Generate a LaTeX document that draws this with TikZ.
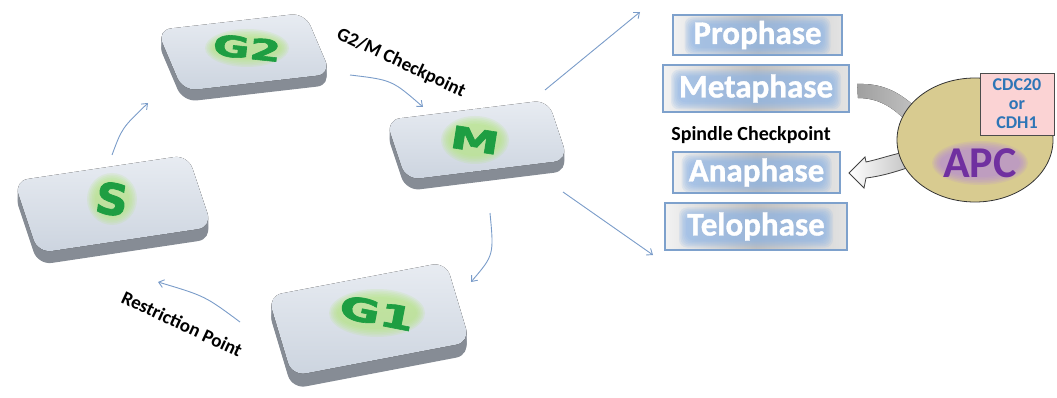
\documentclass[tikz,border=0pt]{standalone}
\usepackage{fontspec}
\setmainfont{Carlito}
\newfontfamily\keyfont[BoldFeatures={FakeBold=2}]{DejaVu Sans}
\newfontfamily\phasefont[BoldFeatures={FakeBold=1}]{Carlito}
\usetikzlibrary{arrows.meta,calc,shapes.geometric}
\definecolor{arrowblue}{HTML}{7A9CC9}
\definecolor{slabtop}{HTML}{E8ECF2}
\definecolor{slabbot}{HTML}{CCD4DF}
\definecolor{slabsidec}{HTML}{B2B7BF}
\definecolor{slabdark}{HTML}{868C95}
\definecolor{keygreen}{HTML}{1E9E42}
\definecolor{glowgreen}{HTML}{B4E67E}
\definecolor{phaseborder}{HTML}{7EA1CC}
\definecolor{phaseglow}{HTML}{8AB3E6}
\definecolor{apcfill}{HTML}{D8CB90}
\definecolor{apcpurple}{HTML}{7030A0}
\definecolor{apcglow}{HTML}{B58AD8}
\definecolor{pinkbox}{HTML}{FBD3D4}
\definecolor{cdcblue}{HTML}{2E75B6}
\tikzset{
  slabface/.style={top color=slabtop, bottom color=slabbot},
  cyc/.style={draw=arrowblue, line width=0.9pt, -{Straight Barb[length=5pt,width=8pt]}},
  lbl/.style={font=\fontsize{19}{21}\selectfont\bfseries, text=black, inner sep=0pt},
  keylbl/.style={font=\keyfont\bfseries\fontsize{28}{30}\selectfont, text=keygreen, inner sep=0pt, transform shape},
  phasebox/.style={draw=phaseborder, line width=1.6pt, left color=gray!10, right color=gray!22, middle color=gray!50, inner sep=0pt},
  phasetext/.style={font=\phasefont\bfseries\fontsize{33}{36}\selectfont, text=white, inner sep=0pt},
}
\newcommand\slab[5]{%
  \foreach \s in {1,...,#5}{%
    \pgfmathtruncatemacro\pct{100*\s/#5}%
    \fill[fill=slabdark!\pct!slabsidec, rounded corners=14pt, shift={(0,\s)}] #1 -- #2 -- #3 -- #4 -- cycle;}
  \fill[slabface, rounded corners=14pt] #1 -- #2 -- #3 -- #4 -- cycle;}
\newcommand\softglow[4]{\foreach \k in {0,...,5}{\fill[#4,opacity=0.17] #1 ellipse [x radius={#2+\k*1.6}, y radius={#3+\k*1.6}];}}
\newcommand\softbox[4]{\foreach \k in {0,...,5}{\fill[#4,opacity=0.17,rounded corners=8pt] ($#1+(-#2-\k*1.4,-#3-\k*1.4)$) rectangle ($#1+(#2+\k*1.4,#3+\k*1.4)$);}}
\begin{document}
\begin{tikzpicture}[x=1pt,y=-1pt]
\useasboundingbox (0,0) rectangle (1057,398);
% slabs
\slab{(157,30)}{(305,13)}{(331,74)}{(183,91)}{11}
\slab{(386,120)}{(548,100)}{(568,160)}{(406,180)}{11}
\slab{(14,181)}{(188,155)}{(212,227)}{(38,253)}{12}
\slab{(268,296)}{(446,262)}{(470,342)}{(292,376)}{13}
% key labels
\softglow{(247,48)}{34}{11}{glowgreen}
\node[keylbl, rotate=-6, xscale=1.55, font=\keyfont\bfseries\fontsize{29}{31}\selectfont] (g2) at (247,48) {G2};
\softglow{(475,140)}{26}{16}{glowgreen}
\node[keylbl, rotate=-9, xscale=1.6, font=\keyfont\bfseries\fontsize{31}{33}\selectfont] (m) at (475,140) {M};
\softglow{(112,199)}{17}{18}{glowgreen}
\node[keylbl, rotate=-8, xscale=1.05, font=\keyfont\bfseries\fontsize{43}{45}\selectfont] (s) at (112,199) {S};
\softglow{(377,313)}{40}{16}{glowgreen}
\node[keylbl, rotate=-11, xscale=1.55, font=\keyfont\bfseries\fontsize{32}{34}\selectfont] (g1) at (377,313) {G1};
% cycle arrows
\coordinate (sg2a) at (112,155); \coordinate (sg2b) at (148,103);
\coordinate (g2ma) at (350,75); \coordinate (g2mb) at (423,107);
\coordinate (mg1a) at (490,213); \coordinate (mg1b) at (471,282);
\coordinate (g1sa) at (240,322); \coordinate (g1sb) at (158,282);
\coordinate (mpa) at (545,90); \coordinate (mpb) at (640,12);
\coordinate (mta) at (563,192); \coordinate (mtb) at (653,255);
\draw[cyc] (sg2a) .. controls (122,128) .. (sg2b);
\draw[cyc] (g2ma) .. controls (392,80) .. (g2mb);
\draw[cyc] (mg1a) .. controls (494,255) .. (mg1b);
\draw[cyc] (g1sa) .. controls (205,296) .. (g1sb);
\draw[cyc] (mpa) -- (mpb);
\draw[cyc] (mta) -- (mtb);
% checkpoint labels
\node[lbl, rotate=-25] (g2mlbl) at (401,63) {G2/M Checkpoint};
\node[lbl, rotate=-25] (rplbl) at (182,324) {Restriction Point};
\node[lbl, font=\fontsize{20}{22}\selectfont\bfseries] (spin) at (751,135) {Spindle Checkpoint};
% phase boxes
\node[phasebox, minimum width=169, minimum height=40] (probox) at (757.5,35) {};
\softbox{(757.5,36)}{66}{12}{phaseglow}
\node[phasetext] (pro) at (757.5,35) {Prophase};
\node[phasebox, minimum width=186, minimum height=47] (metbox) at (756,88.5) {};
\softbox{(756,89.5)}{78}{13}{phaseglow}
\node[phasetext] (met) at (756,88.5) {Metaphase};
\node[phasebox, minimum width=167, minimum height=41] (anabox) at (756.5,172.5) {};
\softbox{(756.5,173.5)}{68}{12}{phaseglow}
\node[phasetext] (ana) at (756.5,172.5) {Anaphase};
\node[phasebox, minimum width=182, minimum height=47] (telbox) at (756,226.5) {};
\softbox{(756,227.5)}{70}{13}{phaseglow}
\node[phasetext] (tel) at (756,226.5) {Telophase};
% block arrows
\fill[left color=gray!75, right color=gray!50]
  (857,84) .. controls (882,83) and (898,92) .. (912,104)
  -- (904,119) .. controls (892,107) and (878,98) .. (858,98) -- cycle;
\draw[left color=white, right color=gray!50, draw=gray!50!black, line width=0.8pt]
  (910,151) .. controls (893,154) and (880,159) .. (866,162) -- (865,157) -- (849,173)
  -- (864,188) -- (866,178) .. controls (883,176) and (898,171) .. (913,166) -- cycle;
% APC
\node[ellipse, minimum width=156, minimum height=124, fill=apcfill, draw=gray!40!black, line width=0.8pt] (apc) at (975,140) {};
\softglow{(980,163)}{40}{14}{apcglow}
\node[font=\fontsize{44}{46}\selectfont\bfseries, text=apcpurple, inner sep=0pt] (apclbl) at (980,163) {APC};
\node[draw=gray!60!black, line width=0.8pt, fill=pinkbox, minimum width=74, minimum height=62, inner sep=0pt] (cdcbox) at (1017,104) {};
\node[font=\fontsize{18}{19}\selectfont\bfseries, text=cdcblue, align=center, inner sep=0pt] (cdc) at (1017,104) {CDC20\\or\\CDH1};
\end{tikzpicture}
\end{document}
